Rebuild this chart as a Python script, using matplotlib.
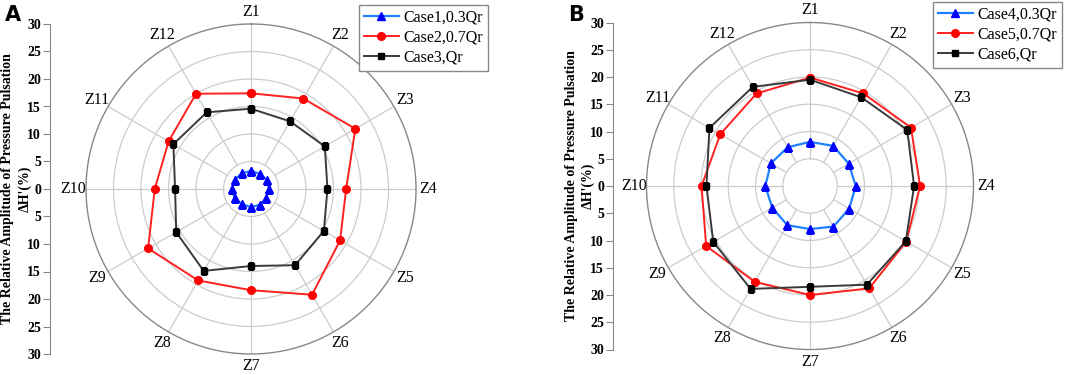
import numpy as np
import matplotlib
matplotlib.use("Agg")
import matplotlib.pyplot as plt

zones = ["Z1", "Z2", "Z3", "Z4", "Z5", "Z6", "Z7", "Z8", "Z9", "Z10", "Z11", "Z12"]

# panel A
case1 = [3.3, 3.2, 3.3, 3.3, 3.2, 3.3, 3.3, 3.2, 3.4, 3.5, 3.4, 3.3]
case2 = [17.4, 19.0, 21.9, 17.3, 18.7, 22.2, 18.4, 19.2, 21.6, 17.5, 17.3, 20.0]
case3 = [14.6, 14.2, 15.5, 13.9, 15.3, 16.0, 14.0, 17.2, 15.7, 13.8, 16.3, 16.1]

# panel B
case4 = [8.1, 8.5, 8.2, 8.4, 8.3, 8.6, 7.9, 8.3, 8.0, 8.2, 8.3, 8.2]
case5 = [19.9, 19.6, 21.4, 20.2, 20.4, 21.7, 20.0, 20.3, 22.0, 19.9, 19.0, 19.6]
case6 = [19.5, 18.8, 20.6, 19.1, 20.3, 20.9, 18.5, 21.8, 20.5, 19.0, 21.3, 21.0]

W, H = 1065, 375
fig = plt.figure(figsize=(W / 100, H / 100), dpi=100)
serif = "Liberation Serif"


def px(x0, y0, w, h):
    # pixel box (top-left origin) -> figure fraction
    return [x0 / W, 1 - (y0 + h) / H, w / W, h / H]


def panel(letter, cx, cy, rad, spine_x, names, series):
    # left linear axis
    la = fig.add_axes(px(spine_x, cy - rad, 1, 2 * rad))
    la.set_ylim(-30, 30)
    la.set_yticks(range(-30, 31, 5))
    la.set_yticklabels([str(abs(v)) for v in range(30, -31, -5)],
                       fontfamily=serif, fontweight="bold", fontsize=10)
    la.set_xticks([])
    for s in ["top", "right", "bottom"]:
        la.spines[s].set_visible(False)
    la.spines["left"].set_color("#888888")
    la.tick_params(axis="y", length=5, color="#888888", pad=1.5)
    la.patch.set_visible(False)
    # y label, two lines
    fig.text((spine_x - 42) / W, 1 - cy / H, "The Relative Amplitude of Pressure Pulsation",
             rotation=90, ha="center", va="center",
             fontfamily=serif, fontweight="bold", fontsize=10)
    fig.text((spine_x - 25) / W, 1 - cy / H, "ΔH'(%)",
             rotation=90, ha="center", va="center",
             fontfamily=serif, fontweight="bold", fontsize=10)

    ax = fig.add_axes(px(cx - rad, cy - rad, 2 * rad, 2 * rad), polar=True)
    ax.set_theta_zero_location("N")
    ax.set_theta_direction(-1)
    ang = np.deg2rad(np.arange(12) * 30)
    ax.set_ylim(0, 30)
    ax.set_yticks([5, 10, 15, 20, 25])
    ax.set_yticklabels([])
    ax.yaxis.grid(True, color="#cccccc", lw=0.9)
    ax.xaxis.grid(False)
    ax.set_xticks(ang)
    ax.set_xticklabels(zones, fontfamily=serif, fontsize=11.5)
    ax.tick_params(axis="x", pad=-1.5)
    for a in ang:
        ax.plot([a, a], [5, 30], color="#cccccc", lw=0.9, zorder=1)
    ax.spines["polar"].set_color("#888888")
    ax.spines["polar"].set_linewidth(1.0)

    styles = [
        dict(color="#1e7fff", marker="^", mfc="#0000ff", mec="#0000ff", ms=5.5, lw=1.6),
        dict(color="#ff2020", marker="o", mfc="#ff0000", mec="#ff0000", ms=5.5, lw=1.4),
        dict(color="#3a3a3a", marker="s", mfc="#000000", mec="#000000", ms=5, lw=1.4),
    ]
    handles = []
    for name, vals, st in zip(names, series, styles):
        t = np.append(ang, ang[0])
        v = np.append(vals, vals[0])
        h, = ax.plot(t, v, label=name, zorder=3, **st)
        handles.append(h)

    fig.text((spine_x - 45) / W, 1 - 15 / H, letter, fontsize=15, fontweight="bold",
             ha="left", va="center", family="DejaVu Sans")
    return ax, handles


axA, hA = panel("A", 251, 189, 165, 50, ["Case1,0.3Qr", "Case2,0.7Qr", "Case3,Qr"],
                [case1, case2, case3])
axB, hB = panel("B", 810, 186, 163.5, 613, ["Case4,0.3Qr", "Case5,0.7Qr", "Case6,Qr"],
                [case4, case5, case6])

for handles, x1, y0 in [(hA, 488, 5), (hB, 1062, 2)]:
    leg = fig.legend(handles=handles, loc="upper right",
                     bbox_to_anchor=(x1 / W, 1 - y0 / H),
                     prop={"family": serif, "size": 11.5}, fancybox=False,
                     edgecolor="#888888", framealpha=1, borderpad=0.3,
                     labelspacing=0.25, handlelength=2.2, handletextpad=0.3,
                     borderaxespad=0)
    leg.get_frame().set_linewidth(1.0)

fig.savefig("out.png", dpi=100)
